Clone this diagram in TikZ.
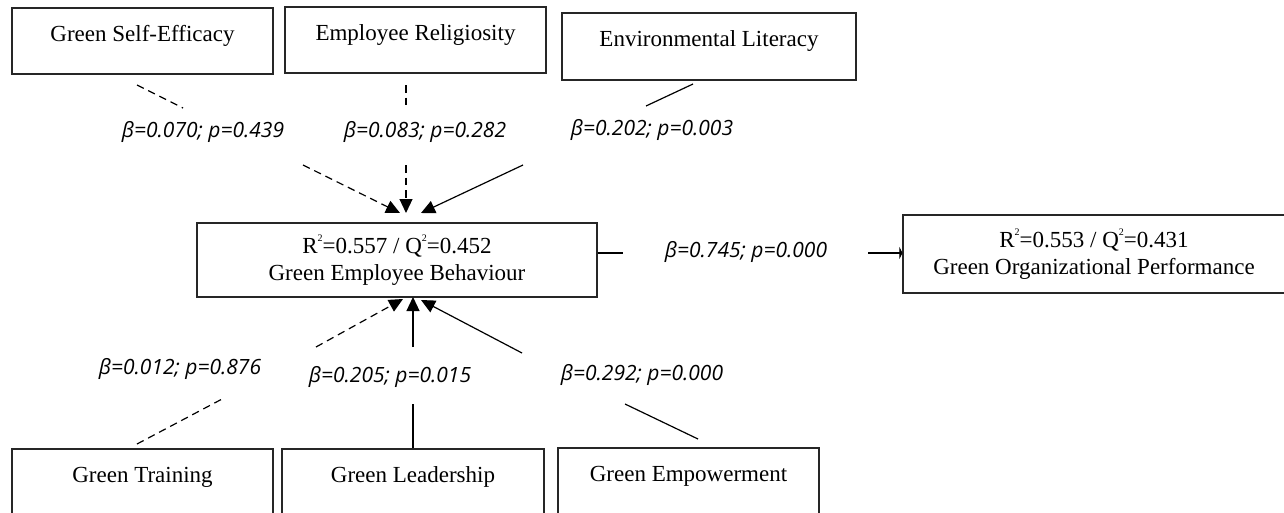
\documentclass[tikz,border=0pt]{standalone}
\usepackage{fontspec}
\setmainfont{Liberation Serif}
\newfontfamily\lblfont{Open Sans}
\usetikzlibrary{arrows.meta}
\newcommand{\sqr}{\raisebox{0.55em}{\fontsize{10}{10}\selectfont 2}}
\begin{document}
\begin{tikzpicture}[x=1pt,y=-1pt,
  box/.style={draw=black!85,line width=1.1pt,inner sep=0pt,align=center,
    font=\fontsize{23}{27}\selectfont},
  onebox/.style={box,text height=16pt,text depth=16pt},
  lbl/.style={font=\lblfont\itshape\fontsize{21}{24}\selectfont,inner sep=0pt},
  conn/.style={line width=1.2pt,black},
  dconn/.style={conn,dash pattern=on 7.5pt off 5pt},
  tip/.style={-{Triangle[length=14pt,width=13pt]}},
  flat/.style={-{Triangle[length=3pt,width=12pt]}}
]
\useasboundingbox (0,0) rectangle (1284,512);
\clip (0,0) rectangle (1284,512);
\fill[white] (0,0) rectangle (1284,512);

% boxes
\node[onebox,minimum width=261pt,minimum height=66pt] (gse) at (142.5,41) {Green Self-Efficacy};
\node[onebox,minimum width=261pt,minimum height=66pt] (er) at (415.5,40) {Employee Religiosity};
\node[onebox,minimum width=294pt,minimum height=67pt] (el) at (709,46.5) {Environmental Literacy};
\node[box,minimum width=400pt,minimum height=74pt] (geb) at (397,260) {R\sqr=0.557 / Q\sqr=0.452\\Green Employee Behaviour};
\node[box,minimum width=382pt,minimum height=78pt] (gop) at (1094,254) {R\sqr=0.553 / Q\sqr=0.431\\Green Organizational Performance};
\node[onebox,minimum width=261pt,minimum height=66pt] (gt) at (142.5,482) {Green Training};
\node[onebox,minimum width=262pt,minimum height=66pt] (gl) at (413,482) {Green Leadership};
\node[onebox,minimum width=261pt,minimum height=66pt] (ge) at (688.5,481) {Green Empowerment};

% labels
\node[lbl] (l1) at (203,132) {β=0.070; p=0.439};
\node[lbl] (l2) at (425,132) {β=0.083; p=0.282};
\node[lbl] (l3) at (652,130) {β=0.202; p=0.003};
\node[lbl] (l4) at (746,252) {β=0.745; p=0.000};
\node[lbl] (l5) at (180,369) {β=0.012; p=0.876};
\node[lbl] (l6) at (390,377) {β=0.205; p=0.015};
\node[lbl] (l7) at (642,375) {β=0.292; p=0.000};

% connector break points
\coordinate (a1) at (137,85);  \coordinate (b1) at (183,108);
\coordinate (c1) at (303,165); \coordinate (d1) at (400,213);
\coordinate (a2) at (406,85);  \coordinate (b2) at (406,108);
\coordinate (c2) at (406,165); \coordinate (d2) at (406,213);
\coordinate (a3) at (693,84);  \coordinate (b3) at (646,106);
\coordinate (c3) at (523,165); \coordinate (d3) at (421,213);
\coordinate (b4) at (623,253); \coordinate (c4) at (868,253);
\coordinate (a5) at (137,444); \coordinate (b5) at (224,398);
\coordinate (c5) at (316,347); \coordinate (d5) at (403,299);
\coordinate (b6) at (413,404); \coordinate (c6) at (413,347);
\coordinate (d6) at (413,297);
\coordinate (a7) at (698,439); \coordinate (b7) at (625,404);
\coordinate (c7) at (522,353); \coordinate (d7) at (421,300);

% connectors
\draw[dconn] (a1) -- (b1);
\draw[dconn,tip] (c1) -- (d1);
\draw[dconn] (a2) -- (b2);
\draw[dconn,tip] (c2) -- (d2);
\draw[conn] (a3) -- (b3);
\draw[conn,tip] (c3) -- (d3);
\draw[conn] (geb.east |- b4) -- (b4);
\draw[conn,flat] (c4) -- (gop.west |- c4);
\draw[dconn] (a5) -- (b5);
\draw[dconn,tip] (c5) -- (d5);
\draw[conn] (gl.north) -- (b6);
\draw[conn,tip] (c6) -- (d6);
\draw[conn] (a7) -- (b7);
\draw[conn,tip] (c7) -- (d7);
\end{tikzpicture}
\end{document}
